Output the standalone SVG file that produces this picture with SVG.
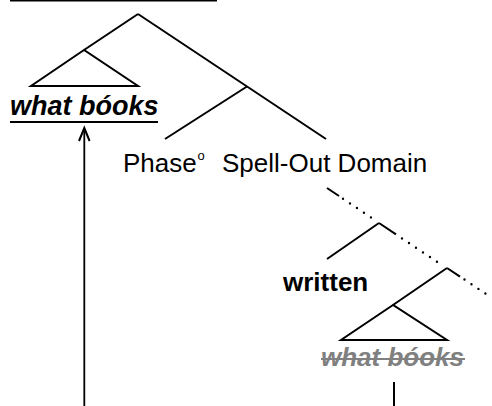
<svg xmlns="http://www.w3.org/2000/svg" width="492" height="406" viewBox="0 0 492 406">
<style>
.e{stroke:#000;stroke-width:2;fill:none;stroke-linecap:butt}
.dot{stroke:#000;stroke-width:2.4;fill:none;stroke-linecap:round;stroke-dasharray:0 8.4}
.t{font-family:"Liberation Sans",Arial,sans-serif;font-size:26px;fill:#000}
.bi{font-weight:bold;font-style:italic}
.b{font-weight:bold}
</style>
<rect width="492" height="406" fill="#fff"/>
<line class="e" x1="10" y1="0.5" x2="217" y2="0.5"/>
<g id="connectors">
<line class="e" x1="138" y1="14" x2="84" y2="50"/>
<line class="e" x1="138" y1="14" x2="326" y2="139"/>
<line class="e" x1="247" y1="86.5" x2="165" y2="139"/>
<line class="e" x1="327" y1="188" x2="339" y2="196"/>
<line class="dot" x1="343" y1="198.7" x2="373" y2="218.8"/>
<line class="e" x1="379" y1="223" x2="327" y2="259"/>
<line class="e" x1="379" y1="223" x2="396" y2="234.4"/>
<line class="dot" x1="402" y1="238.4" x2="441" y2="264.4"/>
<line class="e" x1="447" y1="268" x2="393" y2="305"/>
<line class="e" x1="447" y1="268" x2="460" y2="276.7"/>
<line class="dot" x1="464.5" y1="279.5" x2="492" y2="298"/>
<line class="e" x1="394" y1="382" x2="394" y2="406"/>
<line stroke="#000" stroke-width="1.8" x1="84.3" y1="406" x2="84.3" y2="129"/>
<polyline points="79,141 84.3,128 89.6,141" fill="none" stroke="#000" stroke-width="2"/>
</g>
<g id="moved-wh">
<polygon class="e" points="84,50 31,86 138,86" stroke-linejoin="miter"/>
<text class="t bi" x="10" y="115" style="font-size:27px">what bóoks</text>
<line stroke="#000" stroke-width="2.2" x1="10" y1="122" x2="158" y2="122"/>
</g>
<g id="phase-head">
<text class="t" x="123" y="172">Phase</text>
<text class="t" x="197.5" y="160" style="font-size:13px">o</text>
</g>
<g id="spell-out">
<text class="t" x="222" y="172">Spell-Out Domain</text>
</g>
<g id="written">
<text class="t b" x="283" y="291">written</text>
</g>
<g id="base-wh">
<polygon class="e" points="393,305 341,340 447,340"/>
<text class="t bi" x="321" y="366" style="fill:#808080">what bóoks</text>
<line stroke="#808080" stroke-width="2.2" x1="321" y1="359" x2="465" y2="359"/>
</g>
</svg>
